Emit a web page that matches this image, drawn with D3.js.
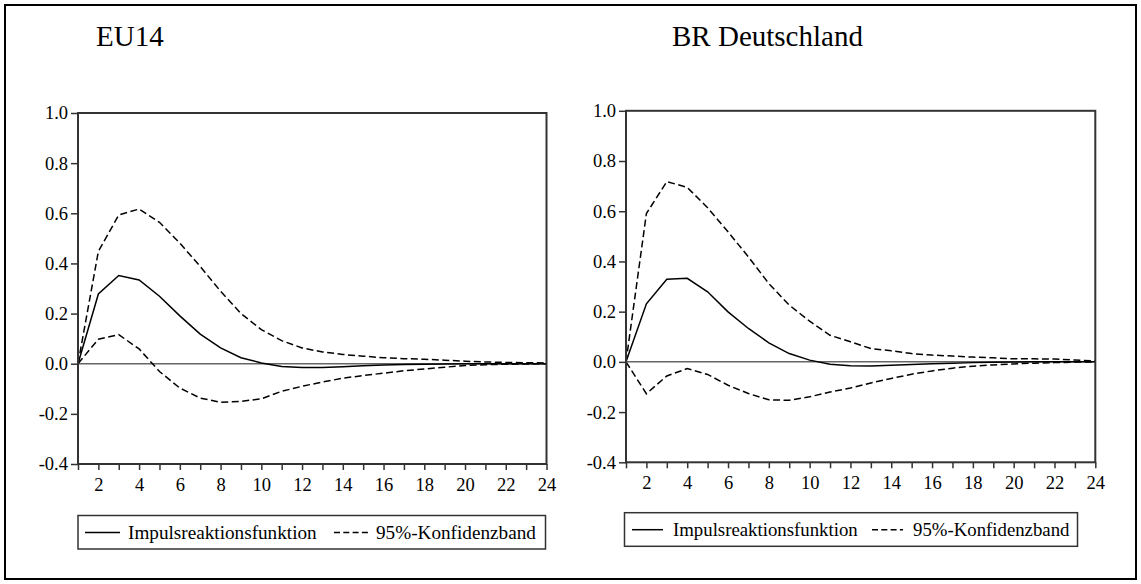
<!DOCTYPE html>
<html>
<head>
<meta charset="utf-8">
<script src="https://cdn.jsdelivr.net/npm/d3@7"></script>
<style>
  body { margin: 0; background: #fff; }
  svg text { font-family: "Liberation Serif", "Times New Roman", serif; fill: #000; }
</style>
</head>
<body>
<svg id="chart" width="1141" height="584"></svg>
<script>
// periods 1..24
const periods = d3.range(1, 25);
const yTicks = [-0.4, -0.2, 0.0, 0.2, 0.4, 0.6, 0.8, 1.0];
const xTickLabels = [2, 4, 6, 8, 10, 12, 14, 16, 18, 20, 22, 24];
const legendLabels = ["Impulsreaktionsfunktion", "95%-Konfidenzband"];

// EU14
const eu14Irf   = [0, 0.278, 0.352, 0.334, 0.269, 0.191, 0.118, 0.063, 0.024, 0.003, -0.011, -0.015,
                   -0.015, -0.012, -0.008, -0.005, -0.003, -0.002, -0.001, 0, 0, 0, 0, 0];
const eu14Upper = [0, 0.448, 0.593, 0.617, 0.564, 0.481, 0.388, 0.289, 0.200, 0.136, 0.092, 0.063,
                   0.047, 0.037, 0.030, 0.024, 0.020, 0.018, 0.014, 0.010, 0.007, 0.005, 0.004, 0.003];
const eu14Lower = [0, 0.098, 0.116, 0.059, -0.031, -0.097, -0.137, -0.154, -0.150, -0.140, -0.110, -0.090,
                   -0.073, -0.058, -0.047, -0.038, -0.028, -0.021, -0.014, -0.007, -0.004, -0.002, -0.001, 0];

// BR Deutschland
const brdIrf   = [0, 0.231, 0.329, 0.333, 0.279, 0.199, 0.133, 0.076, 0.033, 0.007, -0.009, -0.015,
                  -0.016, -0.013, -0.010, -0.007, -0.005, -0.003, -0.002, -0.001, 0, 0, 0, 0];
const brdUpper = [0, 0.591, 0.718, 0.695, 0.614, 0.518, 0.418, 0.312, 0.226, 0.162, 0.106, 0.080,
                  0.053, 0.044, 0.033, 0.027, 0.023, 0.019, 0.016, 0.012, 0.012, 0.011, 0.007, 0.004];
const brdLower = [0, -0.127, -0.056, -0.027, -0.050, -0.093, -0.126, -0.151, -0.153, -0.139, -0.120, -0.104,
                  -0.084, -0.066, -0.049, -0.036, -0.025, -0.017, -0.012, -0.008, -0.005, -0.003, -0.001, 0];

const svg = d3.select("#chart");

svg.append("rect")
    .attr("x", 5).attr("y", 5)
    .attr("width", 1131).attr("height", 574)
    .attr("fill", "none").attr("stroke", "#000").attr("stroke-width", 2);

function drawPanel(cfg, irf, upper, lower) {
    const x = d3.scaleLinear().domain([1, 24]).range([cfg.left, cfg.right]);
    const y = d3.scaleLinear().domain([-0.4, 1.0]).range([cfg.bottom, cfg.top]);
    const g = svg.append("g");

    g.append("text")
        .attr("x", cfg.titleX).attr("y", 46)
        .style("font-size", "29px")
        .text(cfg.title);

    // y axis ticks + labels (plain hyphen for negatives, like the original)
    g.append("g")
        .attr("transform", `translate(${cfg.left},0)`)
        .call(d3.axisLeft(y).tickValues(yTicks).tickFormat(d => d.toFixed(1)).tickSize(7).tickPadding(3))
        .call(a => a.select(".domain").remove())
        .call(a => a.selectAll("line").attr("stroke", "#333").attr("stroke-width", 1.5))
        .call(a => a.selectAll("text").style("font-size", "18.5px")
            .style("font-family", "'Liberation Serif', serif").style("fill", "#000"));

    // x axis ticks every period, labels at even ones
    g.append("g")
        .attr("transform", `translate(0,${cfg.bottom})`)
        .call(d3.axisBottom(x).tickValues(periods)
            .tickFormat(d => xTickLabels.includes(d) ? d : "").tickSize(6).tickPadding(8))
        .call(a => a.select(".domain").remove())
        .call(a => a.selectAll("line").attr("stroke", "#333").attr("stroke-width", 1.5))
        .call(a => a.selectAll("text").style("font-size", "18.5px")
            .style("font-family", "'Liberation Serif', serif").style("fill", "#000"));

    // zero line
    g.append("line")
        .attr("x1", cfg.left).attr("x2", cfg.right)
        .attr("y1", y(0)).attr("y2", y(0))
        .attr("stroke", "#666").attr("stroke-width", 1.5);

    const line = d3.line().x((d, i) => x(periods[i])).y(d => y(d));

    [upper, lower].forEach(s => {
        g.append("path").datum(s)
            .attr("d", line)
            .attr("fill", "none").attr("stroke", "#000")
            .attr("stroke-width", 1.5).attr("stroke-dasharray", "7,3.5");
    });
    g.append("path").datum(irf)
        .attr("d", line)
        .attr("fill", "none").attr("stroke", "#000").attr("stroke-width", 1.5);

    // plot frame
    g.append("rect")
        .attr("x", cfg.left).attr("y", cfg.top)
        .attr("width", cfg.right - cfg.left).attr("height", cfg.bottom - cfg.top)
        .attr("fill", "none").attr("stroke", "#333").attr("stroke-width", 2);

    // legend
    const lg = cfg.legend;
    g.append("rect")
        .attr("x", lg.x0).attr("y", lg.y0)
        .attr("width", lg.x1 - lg.x0).attr("height", lg.y1 - lg.y0)
        .attr("fill", "none").attr("stroke", "#333").attr("stroke-width", 1.5);
    const ly = lg.base - 6;
    g.append("line")
        .attr("x1", lg.solid[0]).attr("x2", lg.solid[1]).attr("y1", ly).attr("y2", ly)
        .attr("stroke", "#000").attr("stroke-width", 1.5);
    g.append("text")
        .attr("x", lg.text1).attr("y", lg.base)
        .style("font-size", lg.fs + "px").text(legendLabels[0]);
    g.append("line")
        .attr("x1", lg.dash[0]).attr("x2", lg.dash[1]).attr("y1", ly).attr("y2", ly)
        .attr("stroke", "#000").attr("stroke-width", 1.5).attr("stroke-dasharray", "6,3.3");
    g.append("text")
        .attr("x", lg.text2).attr("y", lg.base)
        .style("font-size", lg.fs + "px").text(legendLabels[1]);
}

drawPanel({
    title: "EU14", titleX: 96,
    left: 78, right: 546.5, top: 113, bottom: 464,
    legend: { x0: 78, x1: 545.5, y0: 515.5, y1: 549, base: 538.5, fs: 19.2,
              solid: [85, 120], text1: 128, dash: [334, 368], text2: 376 }
}, eu14Irf, eu14Upper, eu14Lower);

drawPanel({
    title: "BR Deutschland", titleX: 672,
    left: 626, right: 1095.3, top: 110.8, bottom: 462.3,
    legend: { x0: 624.5, x1: 1077.5, y0: 512.7, y1: 546.3, base: 535.7, fs: 18.8,
              solid: [632, 663], text1: 673, dash: [872, 903], text2: 913 }
}, brdIrf, brdUpper, brdLower);
</script>
</body>
</html>
